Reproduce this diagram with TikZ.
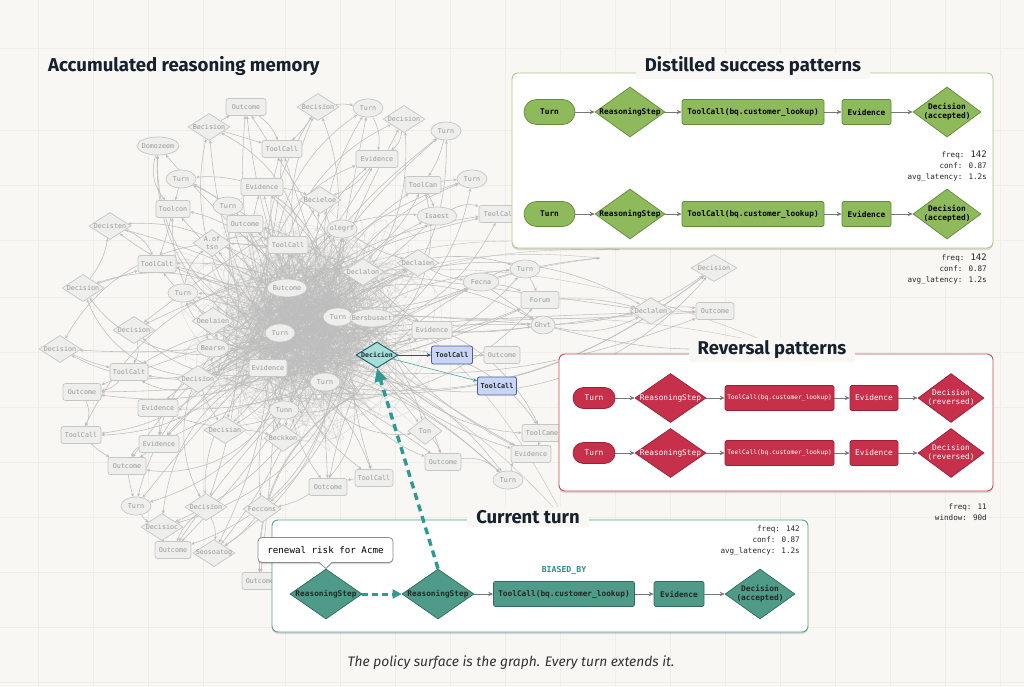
\documentclass[tikz,border=0pt]{standalone}
\usepackage{fontspec}
\setmainfont{Fira Sans}
\newfontfamily\monof{DejaVu Sans Mono}
\usetikzlibrary{shapes.geometric,arrows.meta,shadows,calc}
\definecolor{bgc}{HTML}{F8F7F3}
\definecolor{gridc}{HTML}{EFEDE8}
\definecolor{gfl}{HTML}{EEEEEC}
\definecolor{gbd}{HTML}{C6C6C4}
\definecolor{gtx}{HTML}{999999}
\definecolor{hairc}{HTML}{BDBDBD}
\definecolor{edgec}{HTML}{BEBEBE}
\definecolor{grfill}{HTML}{8FBA5C}
\definecolor{grbd}{HTML}{5E8C38}
\definecolor{grpanel}{HTML}{A9C784}
\definecolor{rdfill}{HTML}{C7304A}
\definecolor{rdbd}{HTML}{9B1F35}
\definecolor{rdpanel}{HTML}{C84B5E}
\definecolor{tlfill}{HTML}{4F9A88}
\definecolor{tlbd}{HTML}{2E6B5E}
\definecolor{tlpanel}{HTML}{5A9E93}
\definecolor{tltext}{HTML}{2B8E8A}
\definecolor{tldash}{HTML}{2E9A94}
\definecolor{hldia}{HTML}{A6DEDC}
\definecolor{hlbd}{HTML}{1E5A62}
\definecolor{blfill}{HTML}{C8D5F4}
\definecolor{blbd}{HTML}{4A5E9E}
\definecolor{arrowc}{HTML}{777777}
\definecolor{titlec}{HTML}{17202E}
\newcommand\panelfont{\monof\bfseries\fontsize{7.8}{9.5}\selectfont}
\newcommand\redfont{\monof\fontsize{7.8}{9.5}\selectfont}
\newcommand\redsmall{\monof\fontsize{6.2}{7.5}\selectfont}
\newcommand\greyfont{\monof\fontsize{6.7}{7}\selectfont}
\newcommand\statfont{\monof\fontsize{7.6}{11}\selectfont}
\newcommand\twol[2]{\begin{tabular}{@{}c@{}}#1\\#2\end{tabular}}
\pgfdeclarelayer{gridl}
\pgfdeclarelayer{edgel}
\pgfsetlayers{gridl,edgel,main}
\tikzset{
  cb/.style={draw=gbd, fill=gfl, rounded corners=2.5pt, minimum height=17, inner sep=0pt, font=\greyfont, text=gtx, line width=0.7pt},
  ce/.style={ellipse, draw=gbd, fill=gfl, minimum height=18, inner sep=0pt, font=\greyfont, text=gtx, line width=0.7pt},
  cd/.style={diamond, draw=gbd, fill=gfl, minimum height=27, inner sep=0pt, font=\greyfont, text=gtx, line width=0.7pt},
  hair/.style={draw=hairc, line width=0.4pt, opacity=0.45},
  gedge/.style={draw=edgec, line width=0.55pt, -{Stealth[length=3.5pt,width=3pt]}},
  base/.style={inner sep=0pt, line width=0.7pt},
  gpill/.style={base, font=\panelfont, fill=grfill, draw=grbd, rounded corners=12.5pt, minimum width=51, minimum height=25},
  grect/.style={base, font=\panelfont, fill=grfill, draw=grbd, rounded corners=2pt, minimum height=25},
  gdiam/.style={base, font=\panelfont, diamond, fill=grfill, draw=grbd, minimum width=70, minimum height=50},
  rpill/.style={base, font=\redfont, text=white, fill=rdfill, draw=rdbd, rounded corners=10.5pt, minimum width=42, minimum height=21},
  rrect/.style={base, font=\redfont, text=white, fill=rdfill, draw=rdbd, rounded corners=2pt, minimum height=25},
  rdiam/.style={base, font=\redfont, text=white, diamond, fill=rdfill, draw=rdbd, minimum width=71, minimum height=49},
  trect/.style={base, font=\panelfont, text=black!85, fill=tlfill, draw=tlbd, rounded corners=2pt, minimum height=25},
  tdiam/.style={base, font=\panelfont, text=black!85, diamond, fill=tlfill, draw=tlbd, minimum width=72, minimum height=50},
  parrow/.style={draw=arrowc, line width=0.8pt, -{Stealth[length=5pt,width=4.5pt]}},
  panel/.style={fill=white, rounded corners=6pt, line width=0.9pt, drop shadow={shadow xshift=0pt, shadow yshift=-2pt, opacity=0.12, fill=black}},
  ptitle/.style={fill=bgc, inner xsep=9pt, inner ysep=3pt, font=\bfseries\fontsize{18.5}{21}\selectfont, text=titlec},
  stat/.style={anchor=east, align=right, font=\statfont, text=black!85, inner sep=0pt},
}
\begin{document}
\begin{tikzpicture}[x=1pt,y=-1pt]
\useasboundingbox (0,0) rectangle (1024,687);
\begin{pgfonlayer}{gridl}
  \fill[bgc] (0,0) rectangle (1024,687);
  \foreach \gx in {38,93,148,203,285,340,395,450,505,560,615,670,725,780,835,890,945,1000}
    {\draw[gridc, line width=0.6pt] (\gx,0) -- (\gx,687);}
  \foreach \gy in {48,130,185,240,297,352,407,462,517,572,627,682}
    {\draw[gridc, line width=0.6pt] (0,\gy) -- (1024,\gy);}
\end{pgfonlayer}

% title
\node[anchor=west, inner sep=0pt, font=\bfseries\fontsize{18.6}{21}\selectfont, text=titlec] (t0) at (48,66) {Accumulated reasoning memory};

% grey memory graph nodes
\foreach \nn/\ty/\px/\py/\ww/\lab in {
 1/b/246/107/40/Outcome, 2/d/318/107/42/Becision, 3/e/368/108/30/Turn, 4/d/209/127/42/Becision,
 5/d/404/119/42/Decision, 6/e/446/131/30/Turn, 7/e/158/146/42/Domozeem, 8/b/282/149/40/ToolCall,
 9/b/377/159/42/Evidence, 10/e/181/179/30/Turn, 11/b/262/187/42/Evidence, 12/b/423/185/36/ToolCan,
 13/e/472/179/30/Turn, 14/d/320/200/42/Becieloe, 15/e/228/206/30/Turn, 16/b/173/209/34/Toolcon,
 17/e/437/216/40/Isaest, 18/b/500/214/42/TeolCall, 19/d/110/226/42/Decisten, 20/b/245/224/36/Outcome,
 21/e/342/229/30/olegrf, 22/d/212/243/38/{\shortstack{A.of\\tsn}}, 23/b/288/245/40/ToolCall, 24/b/157/264/38/ToolCalt,
 25/d/418/263/42/Declaien, 26/d/363/272/42/Declalon, 27/e/525/269/30/Turn, 28/d/83/288/42/Decision,
 29/e/287/288/40/Butcome, 30/e/183/293/30/Turn, 31/e/481/282/36/Fecna, 32/b/540/300/38/Forum,
 33/d/714/268/46/Decision, 34/d/651/311/42/Declalen, 35/b/715/311/38/Outcome, 36/e/543/325/24/Ghvt,
 37/e/338/317/30/Turn, 38/e/372/318/44/Bersbusact, 39/d/213/321/42/Oeelaien, 40/d/134/330/42/Decision,
 41/e/280/333/30/Turn, 42/b/432/330/40/Evidence, 43/d/60/349/42/Decision, 44/e/213/348/32/Bearsn,
 45/b/129/372/38/ToolCalt, 46/d/198/379/42/Decision, 47/b/268/368/38/Evidence, 48/e/325/382/30/Turn,
 49/b/82/392/38/Outcome, 50/b/158/408/40/Evidence, 51/e/284/410/30/Tunn, 52/b/81/435/40/ToolCall,
 53/d/225/430/42/Decisian, 54/d/283/438/38/Beckkon, 55/d/425/431/34/Ton, 56/b/542/433/40/ToolCame,
 57/b/159/444/40/Evidence, 58/b/531/454/40/Evidence, 59/b/443/462/36/Outcome, 60/b/127/466/38/Outcome,
 61/b/374/478/38/ToolCall, 62/e/508/480/30/Turn, 63/b/328/487/38/Ootcome, 64/e/136/506/30/Turn,
 65/d/206/507/42/Decision, 66/d/262/509/38/Feccons, 67/d/162/527/42/Decisioc, 68/b/173/550/36/Outcome,
 69/d/214/553/42/Seosoatog, 70/b/260/581/36/Outcome, 71/b/502/355/36/Outcome}
 {\node[c\ty, minimum width=\ww] (g\nn) at (\px,\py) {\makebox[0pt]{\lab}};}

% highlighted sub-graph
\node[diamond, draw=hlbd, fill=hldia, line width=0.9pt, minimum width=42, minimum height=26, inner sep=0pt, font=\monof\bfseries\fontsize{6.6}{7}\selectfont, text=black!85] (hd) at (377,355) {\makebox[0pt]{Decicion}};
\node[draw=blbd, fill=blfill, line width=0.8pt, rounded corners=2pt, minimum width=41, minimum height=18, inner sep=0pt, font=\monof\bfseries\fontsize{6.8}{7}\selectfont, text=black!85] (ht1) at (452,355) {\makebox[0pt]{ToolCall}};
\node[draw=blbd, fill=blfill, line width=0.8pt, rounded corners=2pt, minimum width=39, minimum height=18, inner sep=0pt, font=\monof\bfseries\fontsize{6.8}{7}\selectfont, text=black!85] (ht2) at (497,386) {\makebox[0pt]{ToolCall}};
\draw[draw=hlbd, line width=0.9pt, -{Stealth[length=4.5pt,width=4pt]}] (hd) -- (ht1);
\draw[draw=tldash, line width=0.5pt, -{Stealth[length=4pt,width=3.5pt]}] (hd) -- (ht2);
\draw[gedge] (ht1) -- (g71);

% edges of the memory graph
\begin{pgfonlayer}{edgel}
  \pgfmathsetseed{4242}
  \foreach \k in {1,...,40}{
    \pgfmathsetmacro\ax{305+50*(rand+rand)}
    \pgfmathsetmacro\ay{322+50*(rand+rand)}
    \coordinate (c\k) at (\ax,\ay);
  }
  \coordinate (r1) at (600,258);
  \coordinate (r2) at (775,345);
  \coordinate (r3) at (565,520);
  \coordinate (r4) at (620,250);
  \foreach \i in {1,...,900}{
    \pgfmathsetmacro\ax{306+45*(rand+rand+rand)}
    \pgfmathsetmacro\ay{325+42*(rand+rand+rand)}
    \pgfmathsetmacro\dx{306+45*(rand+rand+rand)}
    \pgfmathsetmacro\dy{325+42*(rand+rand+rand)}
    \pgfmathsetmacro\bx{\ax+80*rand}
    \pgfmathsetmacro\by{\ay+80*rand}
    \pgfmathsetmacro\cx{\dx+80*rand}
    \pgfmathsetmacro\cy{\dy+80*rand}
    \draw[hair] (\ax,\ay) .. controls (\bx,\by) and (\cx,\cy) .. (\dx,\dy);
  }
  \foreach \nn in {1,...,70}{
    \foreach \m in {1,2,3}{
      \pgfmathrandominteger{\kk}{1}{40}
      \pgfmathsetmacro\bb{int(45*rand)}
      \draw[gedge] (c\kk) to[bend left=\bb] (g\nn);
    }
  }
  \foreach \a/\b in {1/8,2/8,4/8,3/9,5/9,6/12,12/13,7/16,10/16,15/20,16/24,19/24,28/19,28/24,43/45,40/45,49/52,45/49,50/57,52/60,57/60,60/64,64/67,67/68,65/69,66/69,65/68,31/32,32/34,34/35,36/34,36/33,31/27,17/18,12/17,25/31,42/36,55/59,59/62,56/58,61/63,2/3,4/1,11/14,21/25,9/14,22/23,39/44,46/53,53/54,47/51,48/38,37/38,26/42,30/22,29/41,62/58,31/36,27/32}{
    \pgfmathsetmacro\bb{int(30*rand)}
    \draw[gedge] (g\a) to[bend left=\bb] (g\b);
  }
  \foreach \k/\r in {3/r1,7/r1,12/r2,18/r2,22/r3,25/r4,30/r3,33/r4}{
    \draw[hair, opacity=0.9] (c\k) to[bend left=15] (\r);
  }
  \draw[gedge] (g36) to[bend right=10] (r2);
  \draw[gedge] (g31) to[bend left=5] (r1);
\end{pgfonlayer}

% ---------- Distilled success patterns ----------
\node[panel, draw=grpanel, minimum width=481, minimum height=175] (gp) at (752.5,160.5) {};
\node[ptitle] (gpt) at (753,66) {Distilled success patterns};
\foreach \r/\yy in {1/112,2/214}{
  \node[gpill] (ga\r) at (549.5,\yy) {Turn};
  \node[gdiam] (gb\r) at (630,\yy) {\makebox[0pt]{ReasoningStep}};
  \node[grect, minimum width=142] (gc\r) at (753,\yy) {ToolCall(bq.customer\_lookup)};
  \node[grect, minimum width=49] (gd\r) at (866.5,\yy) {Evidence};
  \node[gdiam, minimum width=68] (ge\r) at (947,\yy) {\makebox[0pt]{\twol{Decision}{(accepted)}}};
  \draw[parrow] (ga\r) -- (gb\r);
  \draw[parrow] (gb\r) -- (gc\r);
  \draw[parrow] (gc\r) -- (gd\r);
  \draw[parrow] (gd\r) -- (ge\r);
}
\node[stat] (gs1) at (987,166) {freq: {\fontsize{9}{11}\selectfont 142}\\conf: 0.87\\avg\_latency: 1.2s};
\node[stat] (gs2) at (987,269) {freq: {\fontsize{9}{11}\selectfont 142}\\conf: 0.87\\avg\_latency: 1.2s};

% ---------- Reversal patterns ----------
\node[panel, draw=rdpanel, minimum width=434, minimum height=137] (rp) at (776,422.5) {};
\node[ptitle] (rpt) at (772,350) {Reversal patterns};
\foreach \r/\yy/\tl in {1/398/ToolCall,2/453/TeelCall}{
  \node[rpill] (ra\r) at (594,\yy) {Turn};
  \node[rdiam] (rb\r) at (670.5,\yy) {\makebox[0pt]{ReasoningStep}};
  \node[rrect, minimum width=109, font=\redsmall] (rc\r) at (779.5,\yy) {\tl(bq.customer\_lookup)};
  \node[rrect, minimum width=48] (rd\r) at (874,\yy) {Evidence};
  \node[rdiam, minimum width=66] (re\r) at (951,\yy) {\makebox[0pt]{\twol{Decision}{(reversed)}}};
  \draw[parrow] (ra\r) -- (rb\r);
  \draw[parrow] (rb\r) -- (rc\r);
  \draw[parrow] (rc\r) -- (rd\r);
  \draw[parrow] (rd\r) -- (re\r);
}
\node[stat] (rs) at (987,512) {freq: 11\\window: 90d};

% ---------- Current turn ----------
\node[panel, draw=tlpanel, minimum width=536, minimum height=112] (tp) at (540,576) {};
\node[ptitle] (tpt) at (528,517) {Current turn};
\node[stat] (ts) at (800,541) {freq: 142\\conf: 0.87\\avg\_latency: 1.2s};
\node[tdiam] (ta) at (326,594) {\makebox[0pt]{ReasoningStep}};
\node[tdiam] (tb) at (438,594) {\makebox[0pt]{ReasoningStep}};
\node[trect, minimum width=141] (tc) at (564,594) {ToolCall(bq.customer\_lookup)};
\node[trect, minimum width=50] (td) at (679,594) {Evidence};
\node[tdiam, minimum width=70] (te) at (760,594) {\makebox[0pt]{\twol{Decision}{(accepted)}}};
\node[font=\monof\bfseries\fontsize{8.2}{10}\selectfont, text=tltext, inner sep=0pt] (bias) at (564,570) {BIASED\_BY};
\draw[parrow] (tb) -- (tc);
\draw[parrow] (tc) -- (td);
\draw[parrow] (td) -- (te);
\draw[draw=tldash, line width=3pt, dash pattern=on 6pt off 4pt, -{Triangle[length=9pt,width=9pt]}] (ta) -- (tb);

% callout
\node[draw=black!45, fill=white, rounded corners=4pt, line width=0.8pt, minimum width=135, minimum height=25, inner sep=0pt, font=\monof\fontsize{9.2}{11}\selectfont, drop shadow={shadow xshift=0pt, shadow yshift=-1.5pt, opacity=0.15, fill=black}] (co) at (325.5,550) {renewal risk for Acme};
\coordinate (cot) at (326,568.5);
\fill[white] ($(co.south)+(-6,-0.8)$) -- (cot) -- ($(co.south)+(6,-0.8)$) -- cycle;
\draw[black!45, line width=0.8pt] ($(co.south)+(-6,0)$) -- (cot) -- ($(co.south)+(6,0)$);

% biased-by dashed link up to the memory graph
\draw[draw=tldash, line width=3.4pt, dash pattern=on 7pt off 5pt, -{Triangle[length=13pt,width=12pt]}] (tb.north) -- (hd.south);

% caption
\node[font=\itshape\fontsize{13.8}{16}\selectfont, text=black!80, inner sep=0pt] (cap) at (511,663) {The policy surface is the graph. Every turn extends it.};
\end{tikzpicture}
\end{document}
